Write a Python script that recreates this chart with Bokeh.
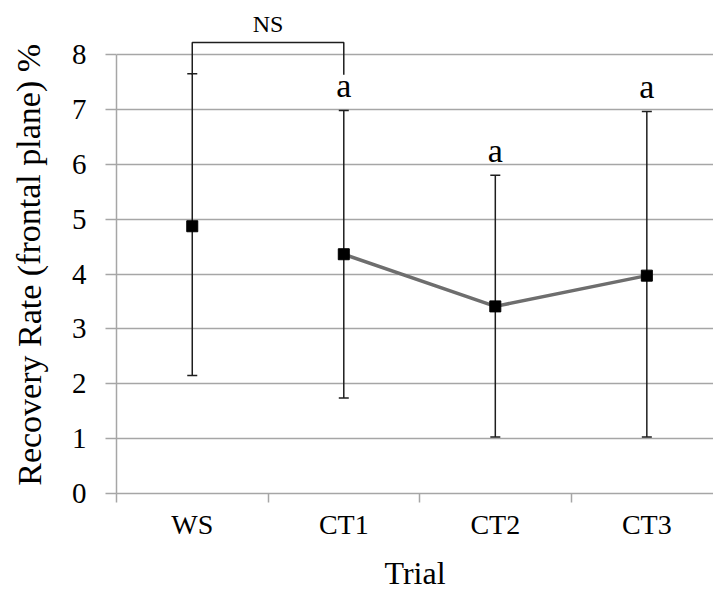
import math
from bokeh.plotting import figure
from bokeh.layouts import row
from bokeh.models import ColumnDataSource, Range1d, FixedTicker, Whisker, TeeHead
from bokeh.core.properties import value
from bokeh.embed import file_html
from bokeh.resources import INLINE

# Recovery rate per trial: mean with upper / lower error limits
trials = ["WS", "CT1", "CT2", "CT3"]
mean_rate = [4.87, 4.36, 3.41, 3.97]
upper_rate = [7.65, 6.98, 5.80, 6.96]
lower_rate = [2.15, 1.74, 1.03, 1.03]
group_letters = ["", "a", "a", "a"]
y_ticks = [0, 1, 2, 3, 4, 5, 6, 7, 8]
y_title = "Recovery Rate (frontal plane) %"
x_title = "Trial"

# significance bracket between WS and CT1
ns_text = "NS"
bracket_top = 8.22
bracket_leg = 7.63

FONT = "Liberation Serif"
GRID = "#a6a6a6"
INK = "#1e1e1e"

W, H = 713, 594
TITLE_W = 60                 # column holding the rotated y-axis title
FRAME_LEFT = 116
FRAME_TOP, FRAME_BOTTOM = 8, 493
PX_PER_UNIT = 54.875

centers = [i + 0.5 for i in range(len(trials))]
bounds = list(range(len(trials) + 1))

# ---- rotated y-axis title beside the axis
side = figure(width=TITLE_W, height=H, output_backend="svg", toolbar_location=None,
              x_range=Range1d(0, TITLE_W), y_range=Range1d(0, H),
              min_border=0)
side.axis.visible = False
side.grid.visible = False
side.outline_line_color = None
side.text(x=[28.5], y=[280], text=[y_title],
          angle=[math.pi / 2], text_font=value(FONT), text_font_size="34px",
          text_color="black", text_align="center", text_baseline="middle")

# ---- main chart
y_max = (FRAME_BOTTOM - FRAME_TOP) / PX_PER_UNIT
p = figure(width=W - TITLE_W, height=H, output_backend="svg", toolbar_location=None,
           x_range=Range1d(0, len(trials) - 0.06), y_range=Range1d(0, y_max),
           min_border_left=FRAME_LEFT - TITLE_W, min_border_right=0,
           min_border_top=FRAME_TOP, min_border_bottom=H - FRAME_BOTTOM)
p.outline_line_color = None

# y axis
p.yaxis.ticker = FixedTicker(ticks=y_ticks)
p.yaxis.bounds = (0, 8)
p.yaxis.major_label_text_font = FONT
p.yaxis.major_label_text_font_size = "29px"
p.yaxis.major_label_text_color = "black"
p.yaxis.major_label_standoff = 19
p.yaxis.major_tick_out = 11
p.yaxis.major_tick_in = 0
p.yaxis.minor_tick_line_color = None
p.yaxis.axis_line_color = GRID
p.yaxis.major_tick_line_color = GRID
p.yaxis.axis_line_width = 1.5
p.yaxis.major_tick_line_width = 1.5

# x axis: labels at category centres, ticks at category boundaries
p.xaxis.ticker = FixedTicker(ticks=centers, minor_ticks=bounds)
p.xaxis.major_label_overrides = {c: t for c, t in zip(centers, trials)}
p.xaxis.axis_label = x_title
p.xaxis.axis_label_text_font = FONT
p.xaxis.axis_label_text_font_size = "32px"
p.xaxis.axis_label_text_font_style = "normal"
p.xaxis.axis_label_text_color = "black"
p.xaxis.axis_label_standoff = 12
p.xaxis.major_label_text_font = FONT
p.xaxis.major_label_text_font_size = "28px"
p.xaxis.major_label_text_color = "black"
p.xaxis.major_label_standoff = 6
p.xaxis.major_tick_line_color = None
p.xaxis.major_tick_out = 0
p.xaxis.major_tick_in = 0
p.xaxis.minor_tick_out = 9
p.xaxis.minor_tick_in = 0
p.xaxis.minor_tick_line_color = GRID
p.xaxis.minor_tick_line_width = 1.5
p.xaxis.axis_line_color = GRID
p.xaxis.axis_line_width = 1.5

p.xgrid.visible = False
p.ygrid.grid_line_color = GRID
p.ygrid.grid_line_width = 1.5
p.ygrid.ticker = FixedTicker(ticks=y_ticks)

src = ColumnDataSource(dict(x=centers, mean=mean_rate, upper=upper_rate,
                            lower=lower_rate, trial=trials))

# connecting line for the CT trials
p.line(x=centers[1:], y=mean_rate[1:], line_color="#6e6e6e", line_width=3.5)

# error bars
p.add_layout(Whisker(source=src, base="x", upper="upper", lower="lower",
                     dimension="height", line_color=INK, line_width=1.5,
                     upper_head=TeeHead(size=10, line_color=INK, line_width=1.5),
                     lower_head=TeeHead(size=10, line_color=INK, line_width=1.5)))

# means
p.scatter(x="x", y="mean", source=src, marker="square", size=11,
          fill_color="black", line_color="black")

# group letters above the error bars
lx = [c for c, t in zip(centers, group_letters) if t]
ly = [u + 25 / PX_PER_UNIT for u, t in zip(upper_rate, group_letters) if t]
lt = [t for t in group_letters if t]
p.text(x=lx, y=ly, text=lt, text_font=value(FONT), text_font_size="34px",
       text_color="black", text_align="center", text_baseline="middle")

# NS bracket
x0, x1 = centers[0], centers[1]
p.multi_line(xs=[[x0, x0, x1, x1]], ys=[[bracket_leg, bracket_top, bracket_top, bracket_leg]],
             line_color=INK, line_width=1.5)
p.text(x=[(x0 + x1) / 2], y=[bracket_top + 18.5 / PX_PER_UNIT], text=[ns_text],
       text_font=value(FONT), text_font_size="24px", text_color="black",
       text_align="center", text_baseline="middle")

layout = row(side, p, spacing=0)
open("out.html", "w").write(file_html(layout, INLINE))
